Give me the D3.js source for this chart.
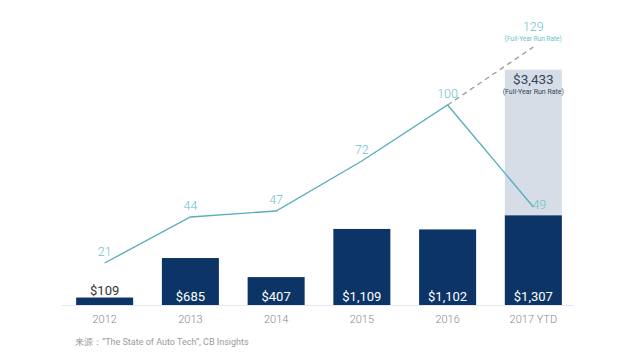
<!DOCTYPE html>
<html><head><meta charset="utf-8">
<script src="https://cdn.jsdelivr.net/npm/d3@7"></script>
<style>body{margin:0;background:#fff}svg{display:block}text{font-family:Roboto,"Noto Sans",sans-serif}</style>
</head><body>
<svg id="c" width="640" height="356"></svg>
<script>
const categories = ["2012","2013","2014","2015","2016","2017 YTD"];
const funding = [109, 685, 407, 1109, 1102, 1307];
const fundingLabels = ["$109","$685","$407","$1,109","$1,102","$1,307"];
const deals = [21, 44, 47, 72, 100, 49];
const runRateFunding = 3433;
const runRateDeals = 129;

const svg = d3.select("#c");
const x = d3.scaleBand().domain(categories).range([62, 576]).paddingInner(0.335).paddingOuter(0.165);
const yBar = d3.scaleLinear().domain([0, 3500]).range([305, 65]);
const yLine = d3.scaleLinear().domain([0, 150]).range([305, 5]);
const cx = c => x(c) + x.bandwidth()/2;

// axis
const axis = svg.append("g").attr("transform","translate(0,305)")
  .call(d3.axisBottom(x).tickSize(0).tickPadding(10));
axis.select(".domain").attr("stroke","#e3e8ee").attr("d","M62,0.5H574");
axis.selectAll("text").attr("fill","#8a8a8a").attr("font-size",11).attr("font-weight",300);

// run-rate light bar
const last = categories[categories.length-1];
svg.append("rect").attr("x", x(last)).attr("width", x.bandwidth())
  .attr("y", yBar(runRateFunding)).attr("height", yBar(0)-yBar(runRateFunding)).attr("fill","#d6dde6");

// bars
svg.selectAll("rect.bar").data(funding).join("rect").attr("class","bar")
  .attr("x",(d,i)=>x(categories[i])).attr("width",x.bandwidth())
  .attr("y",d=>yBar(d)).attr("height",d=>yBar(0)-yBar(d)).attr("fill","#0c3466");

// bar labels
svg.selectAll("text.bl").data(funding).join("text").attr("class","bl")
  .attr("x",(d,i)=>cx(categories[i]))
  .attr("y",(d,i)=> i===0 ? yBar(d)-3 : 301)
  .attr("text-anchor","middle").attr("font-size",13)
  .attr("fill",(d,i)=> i===0 ? "#333" : "#fff")
  .text((d,i)=>fundingLabels[i]);

// run rate funding label
svg.append("text").attr("x",cx(last)).attr("y",yBar(runRateFunding)+14).attr("text-anchor","middle")
  .attr("font-size",13.5).attr("fill","#33475e").text("$3,433");
svg.append("text").attr("x",cx(last)).attr("y",yBar(runRateFunding)+24).attr("text-anchor","middle")
  .attr("font-size",7).attr("fill","#33475e").text("(Full-Year Run Rate)");

// dashed projection
svg.append("line").attr("x1",cx(categories[4])).attr("y1",yLine(deals[4]))
  .attr("x2",cx(last)).attr("y2",yLine(runRateDeals))
  .attr("stroke","#9a9a9a").attr("stroke-width",1.3).attr("stroke-dasharray","5,4");

// deals line
const line = d3.line().x((d,i)=>cx(categories[i])).y(d=>yLine(d));
svg.append("path").datum(deals).attr("d",line).attr("fill","none").attr("stroke","#5aafbd").attr("stroke-width",1.4);

// deal labels
svg.selectAll("text.dl").data(deals).join("text").attr("class","dl")
  .attr("x",(d,i)=>cx(categories[i]) + (i===5 ? 6 : 0))
  .attr("y",(d,i)=> i===5 ? yLine(d)+2 : yLine(d)-7)
  .attr("text-anchor","middle")
  .attr("font-size",12.5).attr("font-weight",300).attr("fill","#6cbfcd").text(d=>d);

svg.append("text").attr("x",cx(last)).attr("y",yLine(runRateDeals)-16).attr("text-anchor","middle")
  .attr("font-size",12.5).attr("font-weight",300).attr("fill","#6cbfcd").text(runRateDeals);
svg.append("text").attr("x",cx(last)).attr("y",yLine(runRateDeals)-6).attr("text-anchor","middle")
  .attr("font-size",6.5).attr("fill","#6cbfcd").text("(Full-Year Run Rate)");

// source
svg.append("text").attr("x",75).attr("y",345).attr("font-size",9).attr("fill","#9a9a9a")
  .attr("font-family","'Noto Sans CJK SC',Roboto,sans-serif")
  .text("来源：\u201CThe State of Auto Tech\u201D, CB Insights");
</script>
</body></html>
